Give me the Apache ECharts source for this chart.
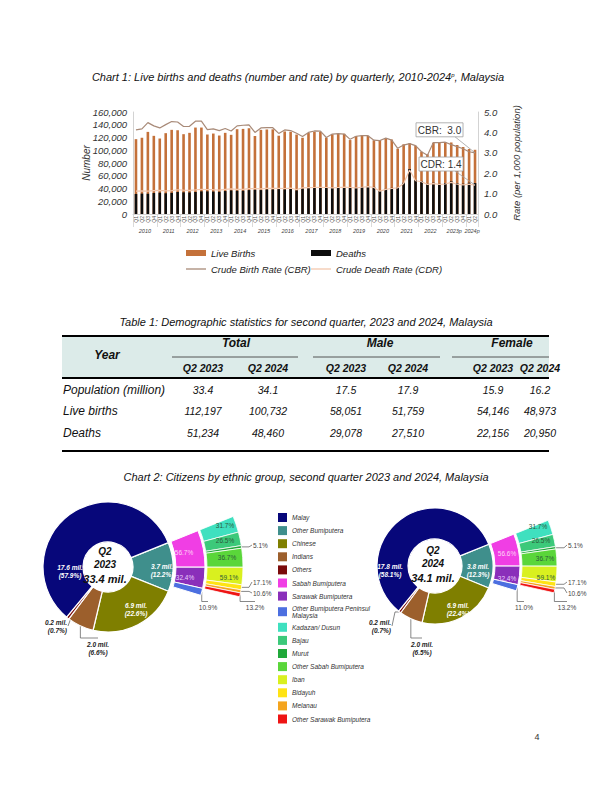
<!DOCTYPE html>
<html>
<head>
<meta charset="utf-8">
<script src="https://cdn.jsdelivr.net/npm/echarts@6.0.0/dist/echarts.min.js"></script>
<style>
html,body{margin:0;padding:0;background:#ffffff;}
#chart{width:612px;height:792px;}
</style>
</head>
<body>
<div id="chart"></div>
<script>
// ================= DATA: Chart 1 =================
const years = ['2010','2011','2012','2013','2014','2015','2016','2017','2018','2019','2020','2021','2022','2023p','2024p'];
const quarterNames = ['Q1','Q2','Q3','Q4'];
const liveBirths = [
 117400,119600,128800,122600,
 118400,126800,132000,131400,
 125200,127300,135600,135600,
 124700,126200,123100,127300,
 124200,133000,133500,134500,
 122500,132000,132600,132800,
 122800,129500,129000,124600,
 119600,127000,129000,129000,
 119700,125000,125800,125800,
 116000,122400,123400,122900,
 115600,115800,119200,116800,
 102400,109300,110900,107100,
 97700,93600,111800,111800,
 112900,112197,108200,105100,
 102000,100732];
const deaths = [
 31500,32000,31800,33000,
 33500,32500,33200,34500,
 34000,33800,34500,35500,
 35500,35200,34800,36000,
 37000,36500,36500,37500,
 38000,37500,38500,38500,
 39000,38500,39500,37000,
 40000,40500,41000,41500,
 41500,41000,41500,42500,
 42000,41500,42500,43500,
 42500,36500,39500,41000,
 42000,49000,70600,53300,
 51800,47600,49000,47500,
 48500,51234,48500,47500,
 49000,48460];
const cbr = [
 4.12,4.17,4.48,4.32,
 4.22,4.38,4.53,4.51,
 4.29,4.30,4.55,4.55,
 4.14,4.17,4.09,4.19,
 4.07,4.32,4.35,4.37,
 4.00,4.22,4.23,4.23,
 3.95,4.12,4.09,3.96,
 3.80,4.00,4.07,4.06,
 3.75,3.92,3.94,3.92,
 3.66,3.81,3.84,3.84,
 3.62,3.60,3.72,3.62,
 3.22,3.38,3.45,3.35,
 3.05,2.88,3.50,3.50,
 3.52,3.40,3.30,3.20,
 3.05,3.00];
const cdr = [
 1.12,1.13,1.12,1.15,
 1.16,1.13,1.15,1.19,
 1.17,1.16,1.18,1.21,
 1.20,1.19,1.17,1.21,
 1.23,1.21,1.21,1.24,
 1.25,1.23,1.26,1.26,
 1.26,1.25,1.27,1.20,
 1.28,1.29,1.30,1.31,
 1.30,1.28,1.30,1.32,
 1.30,1.28,1.31,1.34,
 1.30,1.12,1.21,1.25,
 1.28,1.50,2.16,1.63,
 1.58,1.45,1.49,1.45,
 1.47,1.55,1.46,1.43,
 1.46,1.42];

// ================= DATA: Table 1 =================
const tableRowLabels = ['Population (million)','Live births','Deaths'];
const tableGroups = ['Total','Male','Female'];
const tableSubHeads = ['Q2 2023','Q2 2024'];
const tableValues = [
 ['33.4','34.1','17.5','17.9','15.9','16.2'],
 ['112,197','100,732','58,051','51,759','54,146','48,973'],
 ['51,234','48,460','29,078','27,510','22,156','20,950']];

// ================= DATA: Chart 2 =================
const periods = ['2023','2024'];
const totalCitizens = [33.4, 34.1];
const ethnicMain = ['Other Bumiputera','Chinese','Indians','Others','Malay'];
const share2023 = [12.2, 22.6, 6.6, 0.7, 57.9];
const million2023 = [3.7, 6.9, 2.0, 0.2, 17.6];
const share2024 = [12.3, 22.4, 6.5, 0.7, 58.1];
const million2024 = [3.8, 6.9, 2.0, 0.2, 17.8];
const bumiGroups = ['Sabah Bumiputera','Sarawak Bumiputera','Other Bumiputera Peninsul Malaysia'];
const bumiShare2023 = [56.7, 32.4, 10.9];
const bumiShare2024 = [56.6, 32.4, 11.0];
const subGroups = ['Kadazan/ Dusun','Bajau','Murut','Other Sabah Bumiputera','Iban','Bidayuh','Melanau','Other Sarawak Bumiputera'];
const subParent = [0,0,0,0,1,1,1,1];
const subShare2023 = [31.7, 26.5, 5.1, 36.7, 59.1, 17.1, 10.6, 13.2];
const subShare2024 = [31.7, 26.5, 5.1, 36.7, 59.1, 17.1, 10.6, 13.2];
const legendOrder = ['Malay','Other Bumiputera','Chinese','Indians','Others','Sabah Bumiputera','Sarawak Bumiputera','Other Bumiputera Peninsul Malaysia','Kadazan/ Dusun','Bajau','Murut','Other Sabah Bumiputera','Iban','Bidayuh','Melanau','Other Sarawak Bumiputera'];

// ================= STYLES =================
const FONT = '"Liberation Sans", Arial, sans-serif';
const COLORS = {
 'Malay':'#07077a','Other Bumiputera':'#3f8f8c','Chinese':'#7f7f00','Indians':'#9c5f2c','Others':'#7a0a0a',
 'Sabah Bumiputera':'#f03ee4','Sarawak Bumiputera':'#8a2fba','Other Bumiputera Peninsul Malaysia':'#4c6fe0',
 'Kadazan/ Dusun':'#3fe0bf','Bajau':'#3cc97a','Murut':'#20a83a','Other Sabah Bumiputera':'#5ad63a',
 'Iban':'#d9f01f','Bidayuh':'#ffe314','Melanau':'#f4a41e','Other Sarawak Bumiputera':'#ee1414'
};
const LABEL_FILL = { 'Sabah Bumiputera':'#ffd6f6','Sarawak Bumiputera':'#ead2ff' };
const LINE_ICON = 'path://M0,0H20V1.3H0Z';

const quarterCats = [];
years.forEach(y => { const n = (y === '2024p') ? 2 : 4; for (let q = 0; q < n; q++) quarterCats.push(y + ' ' + quarterNames[q]); });

function fmt1(v) { return (typeof v === 'number') ? v.toFixed(1) : ''; }

// ---------- donut builder ----------
function donut(cfg) {
  const cx = cfg.cx, cy = cfg.cy;
  const ringTotal = 100 * 360 / cfg.span;
  const place = cfg.place;
  function leaderPts(kind, p0, x, y, rect) {
    const h = rect ? rect.height : 10;
    if (kind === 'r') return [p0, [x - 4, p0[1]], [x - 1, y]];
    if (kind === 'l') return [p0, [x + 4, p0[1]], [x + 1, y]];
    const top = y - h / 2 - 2;
    return [p0, [p0[0], top], [x, top]];
  }
  function layoutFor(names) {
    return function (p) {
      const s = place[names[p.dataIndex]];
      if (!s) return {};
      const x = cx + s[0], y = cy + s[1];
      const res = { x: x, y: y, align: s[2] || 'center', verticalAlign: 'middle' };
      if (s[3] && p.labelLinePoints) {
        res.labelLinePoints = leaderPts(s[3], p.labelLinePoints[0], x, y, p.labelRect);
      }
      return res;
    };
  }
  const common = {
    type: 'pie', center: [cx, cy], startAngle: cfg.start, clockwise: true,
    avoidLabelOverlap: false, silent: true, animation: false,
    emphasis: { disabled: true },
    labelLine: { show: false, length: 4, length2: 4, lineStyle: { color: '#555', width: 0.7 } }
  };
  const gapItem = (v) => ({ value: v, name: '', itemStyle: { color: 'rgba(0,0,0,0)', borderWidth: 0 }, label: { show: false }, labelLine: { show: false } });

  const mainData = ethnicMain.map((n, i) => {
    const s = place[n] || [];
    const outside = !!s[3];
    return {
      name: n, value: cfg.share[i], itemStyle: { color: COLORS[n] },
      label: { position: outside ? 'outside' : 'inside', color: outside ? '#222' : '#ffffff' },
      labelLine: { show: outside }
    };
  });
  const s1 = Object.assign({}, common, {
    name: 'main' + cfg.period, radius: [cfg.hole, cfg.R],
    itemStyle: { borderColor: '#ffffff', borderWidth: 1.2 },
    label: {
      show: true, fontFamily: FONT, fontSize: 6.5, fontWeight: 'bold', fontStyle: 'italic', lineHeight: 8,
      formatter: p => (cfg.mil[p.dataIndex] == null) ? '' : fmt1(cfg.mil[p.dataIndex]) + ' mil.\n(' + fmt1(cfg.share[p.dataIndex]) + '%)'
    },
    labelLayout: layoutFor(ethnicMain),
    data: mainData
  });

  const bumiSum = cfg.bumi.reduce((a, b) => a + b, 0);
  const midData = bumiGroups.map((n, i) => {
    const s = place[n] || [];
    const outside = !!s[3];
    return {
      name: n, value: cfg.bumi[i], itemStyle: { color: COLORS[n] },
      label: { position: outside ? 'outside' : 'inside', color: outside ? '#444' : (LABEL_FILL[n] || '#fff') },
      labelLine: { show: outside }
    };
  });
  midData.push(gapItem(ringTotal - bumiSum));
  const s2 = Object.assign({}, common, {
    name: 'mid' + cfg.period, radius: cfg.mid,
    itemStyle: { borderColor: '#ffffff', borderWidth: 1 },
    label: { show: true, fontFamily: FONT, fontSize: 6.5, formatter: p => (cfg.bumi[p.dataIndex] == null) ? '' : fmt1(cfg.bumi[p.dataIndex]) + '%' },
    labelLayout: layoutFor(bumiGroups.concat([''])),
    data: midData
  });

  const subVals = subGroups.map((n, i) => cfg.sub[i] * cfg.bumi[subParent[i]] / 100);
  const subSum = subVals.reduce((a, b) => a + b, 0);
  const outData = subGroups.map((n, i) => {
    const s = place[n] || [];
    const outside = !!s[3];
    return {
      name: n, value: subVals[i], itemStyle: { color: COLORS[n] },
      label: { position: outside ? 'outside' : 'inside', color: outside ? '#444' : '#2c5a3a' },
      labelLine: { show: outside }
    };
  });
  outData.push(gapItem(ringTotal - subSum));
  const s3 = Object.assign({}, common, {
    name: 'out' + cfg.period, radius: cfg.out,
    itemStyle: { borderColor: '#ffffff', borderWidth: 0.8 },
    label: { show: true, fontFamily: FONT, fontSize: 6.5, formatter: p => (cfg.sub[p.dataIndex] == null) ? '' : fmt1(cfg.sub[p.dataIndex]) + '%' },
    labelLayout: layoutFor(subGroups.concat([''])),
    data: outData
  });
  return [s1, s2, s3];
}

const placeLeft = {
  'Other Bumiputera': [54, 3], 'Chinese': [28, 42], 'Indians': [-10, 81, 'center', 'd'], 'Others': [-41, 59, 'right', 'l'], 'Malay': [-38, 4],
  'Sabah Bumiputera': [76, -15], 'Sarawak Bumiputera': [77, 10], 'Other Bumiputera Peninsul Malaysia': [100, 40, 'center', 'd'],
  'Kadazan/ Dusun': [117, -42], 'Bajau': [117, -27], 'Murut': [145, -22, 'left', 'r'], 'Other Sabah Bumiputera': [119, -10],
  'Iban': [121, 10], 'Bidayuh': [145, 15, 'left', 'r'], 'Melanau': [145, 26, 'left', 'r'], 'Other Sarawak Bumiputera': [147, 40, 'center', 'd']
};
const placeRight = {
  'Other Bumiputera': [43, 4], 'Chinese': [23, 43], 'Indians': [-13, 82, 'center', 'd'], 'Others': [-44, 60, 'right', 'l'], 'Malay': [-45, 4],
  'Sabah Bumiputera': [72, -13], 'Sarawak Bumiputera': [72, 12], 'Other Bumiputera Peninsul Malaysia': [89, 41, 'center', 'd'],
  'Kadazan/ Dusun': [103, -40], 'Bajau': [106, -26], 'Murut': [133, -21, 'left', 'r'], 'Other Sabah Bumiputera': [110, -8],
  'Iban': [111, 11], 'Bidayuh': [133, 16, 'left', 'r'], 'Melanau': [133, 27, 'left', 'r'], 'Other Sarawak Bumiputera': [132, 41, 'center', 'd']
};

const donutL = { period: periods[0], cx: 108, cy: 567, hole: 25, R: 65, mid: [68, 97], out: [99, 135], start: 22, span: 39,
  textDx: -3, share: share2023, mil: million2023, bumi: bumiShare2023, sub: subShare2023, place: placeLeft };
const donutR = { period: periods[1], cx: 435, cy: 566, hole: 27, R: 58, mid: [60, 85], out: [87, 122], start: 22, span: 39,
  textDx: -2, share: share2024, mil: million2024, bumi: bumiShare2024, sub: subShare2024, place: placeRight };

// ---------- graphics ----------
function txt(id, text, x, y, o) {
  o = o || {};
  return { type: 'text', id: id, z: o.z || 20, style: Object.assign({
    text: text, x: x, y: y, align: o.align || 'center', verticalAlign: 'middle',
    textAlign: o.align || 'center', textVerticalAlign: 'middle',
    fontFamily: FONT, fontSize: o.size || 10, fontStyle: o.italic === false ? 'normal' : 'italic',
    fontWeight: o.bold ? 'bold' : 'normal', fill: o.color || '#111'
  }, o.extra || {}) };
}
function hline(id, x1, x2, y, w, c) {
  return { type: 'line', id: id, z: 15, shape: { x1: x1, y1: y, x2: x2, y2: y }, style: { stroke: c || '#000', lineWidth: w || 1 } };
}

const G = [];
G.push(txt('t1', 'Chart 1: Live births and deaths (number and rate) by quarterly, 2010-2024{s|p}, Malaysia', 298, 77,
  { size: 11, extra: { rich: { s: { fontSize: 6, fontStyle: 'italic', fontFamily: FONT, verticalAlign: 'top', fill: '#111' } } } }));
G.push(txt('t2', 'Table 1: Demographic statistics for second quarter, 2023 and 2024, Malaysia', 306, 322, { size: 11 }));
G.push(txt('t3', 'Chart 2: Citizens by ethnic group, second quarter 2023 and 2024, Malaysia', 306, 477, { size: 11 }));
G.push(txt('pg', '4', 537, 737, { size: 9, italic: false, color: '#333' }));

const TB = { x0: 62, x1: 549, top: 336, head: 378, bottom: 451, colX: [203, 268, 346, 408, 493, 540],
  groupX: [236, 380, 512], groupLine: [[172, 298], [313, 440], [452, 549]], rowY: [390, 411, 433] };
G.push({ type: 'rect', id: 'thbg', z: 10, shape: { x: TB.x0, y: TB.top, width: TB.x1 - TB.x0, height: TB.head - TB.top }, style: { fill: '#dcebe9' } });
G.push(hline('tl1', TB.x0, TB.x1, TB.top, 2));
G.push(hline('tl2', TB.x0, TB.x1, TB.head, 2));
G.push(hline('tl3', TB.x0, TB.x1, TB.bottom, 2));
G.push(txt('thy', 'Year', 107, 355, { bold: true, size: 12 }));
tableGroups.forEach((g, i) => {
  G.push(txt('thg' + i, g, TB.groupX[i], 343, { bold: true, size: 12 }));
  G.push(hline('thl' + i, TB.groupLine[i][0], TB.groupLine[i][1], 357, 0.9, '#444'));
  tableSubHeads.forEach((s, j) => G.push(txt('ths' + i + j, s, TB.colX[i * 2 + j], 368, { bold: true, size: 10.5 })));
});
tableRowLabels.forEach((r, i) => {
  G.push(txt('trl' + i, r, 63, TB.rowY[i], { align: 'left', size: 12 }));
  tableValues[i].forEach((v, j) => G.push(txt('trv' + i + j, v, TB.colX[j], TB.rowY[i], { size: 10.5 })));
});

[donutL, donutR].forEach((d, k) => {
  const tx = d.cx + d.textDx;
  G.push(txt('cq' + k, 'Q2', tx, d.cy - 16, { bold: true, size: 10 }));
  G.push(txt('cy' + k, d.period, tx, d.cy - 3, { bold: true, size: 10 }));
  G.push(txt('ct' + k, fmt1(totalCitizens[k]) + ' mil.', tx, d.cy + 12, { bold: true, size: 11 }));
});

const axisText = { fontFamily: FONT, fontStyle: 'italic', color: '#333' };

const option = {
  animation: false,
  backgroundColor: '#ffffff',
  grid: { left: 133, right: 134, top: 112, bottom: 578, outerBoundsMode: 'none' },
  legend: [
    { id: 'lg1', left: 186, top: 248, orient: 'vertical', padding: 0, itemWidth: 20, itemHeight: 6, itemGap: 6, selectedMode: false,
      data: [{ name: 'Live Births', icon: 'rect' }, { name: 'Crude Birth Rate (CBR)', icon: LINE_ICON }],
      textStyle: { fontFamily: FONT, fontStyle: 'italic', fontSize: 9.5, color: '#222' } },
    { id: 'lg2', left: 311, top: 248, orient: 'vertical', padding: 0, itemWidth: 20, itemHeight: 6, itemGap: 6, selectedMode: false,
      data: [{ name: 'Deaths', icon: 'rect' }, { name: 'Crude Death Rate (CDR)', icon: LINE_ICON }],
      textStyle: { fontFamily: FONT, fontStyle: 'italic', fontSize: 9.5, color: '#222' } },
    { id: 'lg3', left: 278, top: 513, orient: 'vertical', padding: 0, itemWidth: 9, itemHeight: 9, itemGap: 4.1, icon: 'rect', selectedMode: false,
      itemStyle: { borderWidth: 0 },
      data: legendOrder,
      formatter: n => n === 'Other Bumiputera Peninsul Malaysia' ? 'Other Bumiputera Peninsul\nMalaysia' : n,
      textStyle: { fontFamily: FONT, fontStyle: 'italic', fontSize: 6.5, lineHeight: 7, color: '#333' } }
  ],
  xAxis: [
    { type: 'category', data: quarterCats, boundaryGap: true, position: 'bottom',
      axisLine: { show: true, lineStyle: { color: '#c8c8c8', width: 0.8 } },
      axisTick: { show: false },
      axisLabel: { interval: 0, rotate: 90, fontSize: 5, margin: 2, color: '#555', fontFamily: FONT, formatter: v => v.split(' ')[1] } },
    { type: 'category', data: quarterCats, boundaryGap: true, position: 'bottom', offset: 10,
      axisLine: { show: false },
      axisTick: { show: true, interval: i => i % 4 === 0, length: 13, lineStyle: { color: '#d0d0d0', width: 0.8 } },
      axisLabel: { interval: 0, fontSize: 5.5, margin: 4, color: '#444', fontFamily: FONT, fontStyle: 'italic', padding: [0, 0, 0, 6],
        formatter: v => { const parts = v.split(' '); const mid = parts[0] === '2024p' ? 'Q1' : 'Q2'; return parts[1] === mid ? parts[0] : ''; } } }
  ],
  yAxis: [
    { type: 'value', min: 0, max: 160000, interval: 20000, position: 'left',
      name: 'Number', nameLocation: 'middle', nameGap: 42, nameRotate: 90, nameMoveOverlap: false,
      nameTextStyle: Object.assign({ fontSize: 10 }, axisText),
      axisLine: { show: true, lineStyle: { color: '#c8c8c8', width: 0.8 } }, axisTick: { show: false }, splitLine: { show: false },
      axisLabel: Object.assign({ fontSize: 9.5, margin: 6, formatter: v => v.toLocaleString('en-US') }, axisText) },
    { type: 'value', min: 0, max: 5, interval: 1, position: 'right',
      name: 'Rate (per 1,000 population)', nameLocation: 'middle', nameGap: 33, nameRotate: 90, nameMoveOverlap: false,
      nameTextStyle: Object.assign({ fontSize: 9.5 }, axisText),
      axisLine: { show: true, lineStyle: { color: '#c8c8c8', width: 0.8 } }, axisTick: { show: false }, splitLine: { show: false },
      axisLabel: Object.assign({ fontSize: 9.5, margin: 6, formatter: v => v.toFixed(1) }, axisText) }
  ],
  series: [
    { name: 'Live Births', type: 'bar', xAxisIndex: 0, yAxisIndex: 0, data: liveBirths, barWidth: 2.6, barGap: '-100%',
      itemStyle: { color: '#c4713a' }, silent: true },
    { name: 'Deaths', type: 'bar', xAxisIndex: 0, yAxisIndex: 0, data: deaths, barWidth: 2.6,
      itemStyle: { color: '#0d0d0d' }, silent: true },
    { name: 'Crude Birth Rate (CBR)', type: 'line', xAxisIndex: 0, yAxisIndex: 1, data: cbr, symbol: 'none', silent: true,
      lineStyle: { color: '#a88a78', width: 1.2 }, itemStyle: { color: '#a88a78' }, z: 5 },
    { name: 'Crude Death Rate (CDR)', type: 'line', xAxisIndex: 0, yAxisIndex: 1, data: cdr, symbol: 'none', silent: true,
      lineStyle: { color: '#f3c8ae', width: 1.2 }, itemStyle: { color: '#f3c8ae' }, z: 5 }
  ].concat(donut(donutL), donut(donutR)),
  graphic: { elements: G }
};

const chart = echarts.init(document.getElementById('chart'), null, { renderer: 'svg', width: 612, height: 792 });
chart.setOption(option);

function callout(id, label, p, dx, dy, w) {
  const h = 14, bx = p[0] + dx - w / 2, by = p[1] + dy - h / 2;
  return [
    { type: 'line', id: id + 'l', z: 30, shape: { x1: bx + w - 8, y1: by + h, x2: p[0], y2: p[1] }, style: { stroke: '#a0a0a0', lineWidth: 0.8 } },
    { type: 'rect', id: id + 'r', z: 31, shape: { x: bx, y: by, width: w, height: h }, style: { fill: '#ffffff', stroke: '#a0a0a0', lineWidth: 0.8 } },
    txt(id + 't', label, bx + w / 2, by + h / 2 + 0.5, { size: 10, italic: false, color: '#333', z: 32 })
  ];
}
try {
  const last = cbr.length - 1;
  const pB = chart.convertToPixel({ seriesIndex: 2 }, [last, cbr[last]]);
  const pD = chart.convertToPixel({ seriesIndex: 3 }, [last, cdr[last]]);
  if (pB && pD) {
    const extra = callout('cbrc', 'CBR:  ' + fmt1(cbr[last]), pB, -35.5, -23, 47)
      .concat(callout('cdrc', 'CDR: ' + fmt1(cdr[last]), pD, -34, -21, 44));
    option.graphic.elements = G.concat(extra);
    chart.setOption(option, { notMerge: true });
  }
} catch (e) { console.log(e); }
</script>
</body>
</html>
